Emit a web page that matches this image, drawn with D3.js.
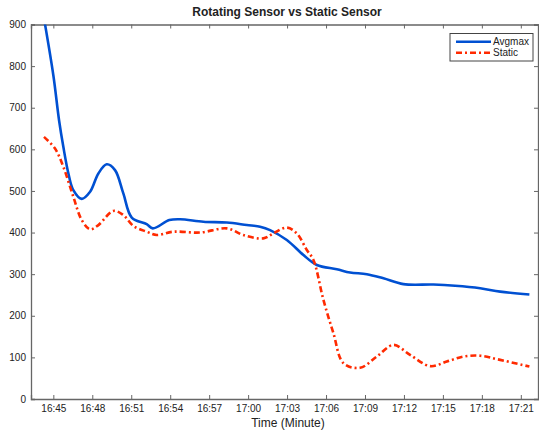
<!DOCTYPE html>
<html>
<head>
<meta charset="utf-8">
<script src="https://cdn.jsdelivr.net/npm/d3@7"></script>
<style>
  body { margin: 0; background: #fff; }
  text { font-family: "Liberation Sans", Arial, sans-serif; fill: #222; }
</style>
</head>
<body>
<script>
// time is minutes after 16:00
let avgTime  = [44.28,45.00,45.44,45.77,46.16,46.54,47.19,47.83,48.47,49.11,49.75,50.39,51.04,52.19,52.66,53.93,54.76,56.55,58.36,59.90,60.92,61.69,62.98,64.26,65.29,66.83,67.85,69.14,70.42,71.96,74.27,75.94,77.87,79.41,81.66];
let avgValue = [915,778,670,606,542,502,481,498,542,564,550,494,436,420,410,430,432,426,424,418,414,406,382,346,322,312,304,300,290,276,275,272,266,258,251];

let staticTime  = [44.28,45.13,45.77,46.54,47.19,47.83,48.47,49.62,50.39,51.16,52.19,52.96,54.24,56.30,58.36,59.63,61.17,61.95,62.98,63.75,64.52,65.03,65.80,66.57,67.34,68.62,69.91,71.19,72.47,74.02,75.30,76.58,77.87,79.41,81.66];
let staticValue = [630,602,558,486,430,408,418,452,442,416,402,394,402,400,410,394,386,398,412,398,358,334,238,158,86,75,102,130,106,79,90,102,104,94,78];

let xTicks = [45,48,51,54,57,60,63,66,69,72,75,78,81];
let xTickLabels = ['16:45','16:48','16:51','16:54','16:57','17:00','17:03','17:06','17:09','17:12','17:15','17:18','17:21'];
let yTicks = [0,100,200,300,400,500,600,700,800,900];

function main(){
    let width = 539, height = 431;
    let left = 31, right = 539, top = 24.5, bottom = 399;

    var svg = d3.select('body').append('svg')
        .attr('width', width)
        .attr('height', height);

    var x = d3.scaleLinear().domain([43.28, 82.40]).range([left, right]);
    var y = d3.scaleLinear().domain([0, 900]).range([bottom, top]);

    svg.append('defs').append('clipPath').attr('id','clip')
        .append('rect').attr('x', left).attr('y', top)
        .attr('width', right-left).attr('height', bottom-top);

    // axes (ticks point inward)
    var xAxis = svg.append('g').attr('transform', `translate(0,${bottom})`)
        .call(d3.axisBottom(x).tickValues(xTicks)
            .tickFormat((d,i) => xTickLabels[i]).tickSize(-4).tickPadding(6));
    var xTop = svg.append('g').attr('transform', `translate(0,${top})`)
        .call(d3.axisTop(x).tickValues(xTicks).tickFormat('').tickSize(-4));
    var yAxis = svg.append('g').attr('transform', `translate(${left},0)`)
        .call(d3.axisLeft(y).tickValues(yTicks).tickSize(-4).tickPadding(5));
    var yRight = svg.append('g').attr('transform', `translate(${right-1},0)`)
        .call(d3.axisRight(y).tickValues(yTicks).tickFormat('').tickSize(-4));

    [xAxis, xTop, yAxis, yRight].forEach(g => {
        g.select('.domain').attr('stroke', '#666').attr('stroke-width', 1.3);
        g.selectAll('.tick line').attr('stroke', '#666');
        g.selectAll('text').style('font-size', '10px').attr('fill', '#222');
    });

    var line = (xs) => d3.line()
        .x((d,i) => x(xs[i]))
        .y(d => y(d))
        .curve(d3.curveCatmullRom.alpha(0.5));

    svg.append('path')
        .attr('clip-path', 'url(#clip)')
        .attr('d', line(avgTime)(avgValue))
        .attr('fill', 'none')
        .attr('stroke', '#0050d2')
        .attr('stroke-width', 2.6);

    svg.append('path')
        .attr('clip-path', 'url(#clip)')
        .attr('d', line(staticTime)(staticValue))
        .attr('fill', 'none')
        .attr('stroke', '#ff2a00')
        .attr('stroke-width', 2.6)
        .attr('stroke-dasharray', '6,3,2,3');

    // title + axis label
    svg.append('text')
        .attr('x', 287).attr('y', 16)
        .attr('text-anchor', 'middle')
        .style('font-size', '12px').style('font-weight', 'bold')
        .text('Rotating Sensor vs Static Sensor');

    svg.append('text')
        .attr('x', 288).attr('y', 427)
        .attr('text-anchor', 'middle')
        .style('font-size', '12px')
        .text('Time (Minute)');

    // legend
    var lg = svg.append('g');
    lg.append('rect')
        .attr('x', 450).attr('y', 33.5).attr('width', 83).attr('height', 27.5)
        .attr('fill', '#fff').attr('stroke', '#444').attr('stroke-width', 1);
    var items = [
        {name: 'Avgmax', color: '#0050d2', dash: null},
        {name: 'Static', color: '#ff2a00', dash: '6,3,2,3'}
    ];
    items.forEach((it, i) => {
        var yy = 41.7 + i*11;
        lg.append('line')
            .attr('x1', 456).attr('x2', 491).attr('y1', yy).attr('y2', yy)
            .attr('stroke', it.color).attr('stroke-width', 2.4)
            .attr('stroke-dasharray', it.dash);
        lg.append('text')
            .attr('x', 493).attr('y', yy + 3.5)
            .style('font-size', '10px')
            .text(it.name);
    });
}
main();
</script>
</body>
</html>
